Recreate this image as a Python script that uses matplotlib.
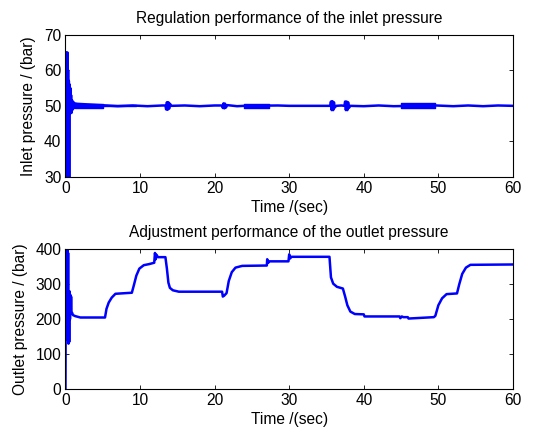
import matplotlib
matplotlib.use("Agg")
import matplotlib.pyplot as plt

plt.rcParams['font.family'] = ['Liberation Sans', 'DejaVu Sans']

# inlet pressure: start-up transient then steady around 50 bar
inlet_t = [0.0, 0.05, 0.1, 0.15, 0.2, 0.25, 0.3, 0.35, 0.4, 0.45, 0.5, 0.55,
           0.6, 0.65, 0.7, 0.75, 0.8, 0.9, 1.0, 1.1, 1.2, 1.3]
inlet_p = [30.0, 65.0, 30.0, 64.0, 35.0, 65.0, 30.0, 60.0, 30.0, 57.0, 30.0, 56.0,
           49.0, 55.0, 48.0, 53.0, 48.0, 51.5, 49.0, 51.0, 49.5, 50.6]

# steady part of the inlet pressure, (time, value) pairs
inlet_noise = [
    (1.3, 50.6), (5.5, 50.1), (7.0, 49.9), (9.0, 50.1), (11.0, 49.9), (13.0, 50.1),
    (13.4, 50.1), (13.5, 49.0), (13.6, 51.0), (13.7, 48.9), (13.8, 51.0),
    (13.9, 49.2), (14.0, 50.6), (14.2, 50.0), (16.0, 50.1), (18.0, 49.9),
    (20.0, 50.1), (21.0, 50.1), (21.1, 49.4), (21.2, 50.7), (21.3, 49.3),
    (21.4, 50.6), (21.5, 49.5), (21.7, 50.2), (23.0, 49.9), (24.0, 50.0),
    (28.5, 50.1), (30.0, 50.0), (33.0, 50.0), (35.5, 50.0), (35.6, 51.2),
    (35.7, 48.8), (35.8, 51.3), (35.9, 48.8), (36.0, 51.0), (36.1, 49.5),
    (36.3, 50.0), (37.0, 50.1), (37.4, 50.0), (37.5, 51.2), (37.6, 48.8),
    (37.7, 51.2), (37.8, 48.8), (37.9, 51.0), (38.0, 49.4), (38.2, 50.0),
    (40.0, 49.9), (42.0, 50.1), (44.0, 49.9), (49.7, 50.1), (52.0, 49.9),
    (54.0, 50.1), (56.0, 49.9), (58.0, 50.1), (60.0, 50.0),
]
noise_t = [p[0] for p in inlet_noise]
noise_p = [p[1] for p in inlet_noise]

# stretches where the inlet pressure chatters: start, end, half band (bar)
chatter_start = [1.3, 5.0, 24.0, 45.0]
chatter_end = [5.0, 9.5, 27.3, 49.6]
chatter_half = [0.55, 0.15, 0.5, 0.7]

# outlet pressure: staircase set-point tracking
outlet_t = [0.0, 0.05, 0.1, 0.15, 0.2, 0.25, 0.3, 0.35, 0.4, 0.45, 0.5, 0.55,
            0.6, 0.65, 0.7, 0.75, 0.8, 0.9, 1.0, 1.3, 2.0, 5.3, 5.5, 5.8, 6.2,
            6.7, 8.9, 9.2, 9.5, 9.9, 10.5, 11.2, 11.9, 12.0, 12.1, 12.2, 12.4,
            13.4, 13.6, 13.8, 14.0, 14.4, 15.2, 21.0, 21.1, 21.3, 21.6, 21.9,
            22.3, 22.8, 23.7, 27.0, 27.05, 27.2, 27.3, 29.9, 30.0, 30.1, 30.3,
            35.4, 35.6, 35.9, 36.4, 37.2, 37.5, 37.8, 38.2, 38.8, 40.0, 40.1,
            44.8, 44.9, 45.1, 45.3, 45.9, 46.0, 49.4, 49.6, 50.0, 50.5, 51.1,
            52.5, 52.8, 53.2, 53.7, 54.3, 60.0]
outlet_p = [0.0, 400.0, 150.0, 400.0, 180.0, 400.0, 140.0, 390.0, 130.0, 280.0,
            135.0, 280.0, 200.0, 270.0, 215.0, 265.0, 220.0, 218.0, 212.0,
            209.0, 205.0, 205.0, 230.0, 248.0, 262.0, 273.0, 276.0, 300.0,
            325.0, 345.0, 355.0, 358.0, 362.0, 390.0, 372.0, 385.0, 378.0,
            378.0, 345.0, 305.0, 290.0, 283.0, 279.0, 279.0, 265.0, 268.0,
            275.0, 310.0, 335.0, 348.0, 353.0, 354.0, 372.0, 362.0, 366.0,
            366.0, 386.0, 374.0, 379.0, 379.0, 320.0, 302.0, 293.0, 288.0,
            265.0, 240.0, 222.0, 215.0, 214.0, 208.0, 208.0, 203.0, 208.0,
            206.0, 206.0, 202.0, 206.0, 210.0, 240.0, 260.0, 272.0, 274.0,
            300.0, 330.0, 348.0, 356.0, 357.0]

fig = plt.figure(figsize=(5.43, 4.32), dpi=100)
ax1 = fig.add_axes([0.1206, 0.590, 0.824, 0.330])
ax2 = fig.add_axes([0.1206, 0.0995, 0.824, 0.323])

blue = '#0000ff'
ax1.plot(inlet_t, inlet_p, color=blue, linewidth=1.8)
ax1.plot(noise_t, noise_p, color=blue, linewidth=1.8)
for s, e, h in zip(chatter_start, chatter_end, chatter_half):
    ax1.fill_between([s, e], [50 - h, 50 - h], [50 + h, 50 + h],
                     color=blue, linewidth=1.0, edgecolor=blue)
ax2.plot(outlet_t, outlet_p, color=blue, linewidth=1.8)

fs = 11.2
ax1.set_xlim(0, 60)
ax1.set_ylim(30, 70)
ax1.set_yticks([30, 40, 50, 60, 70])
ax1.set_title('Regulation performance of the inlet pressure', fontsize=fs, pad=8)
ax1.set_ylabel('Inlet pressure / (bar)', fontsize=fs, labelpad=6)
ax1.set_xlabel('Time /(sec)', fontsize=fs, labelpad=3)

ax2.set_xlim(0, 60)
ax2.set_ylim(0, 400)
ax2.set_yticks([0, 100, 200, 300, 400])
ax2.set_title('Adjustment performance of the outlet pressure', fontsize=fs, pad=9)
ax2.set_ylabel('Outlet pressure / (bar)', fontsize=fs, labelpad=5)
ax2.set_xlabel('Time /(sec)', fontsize=fs, labelpad=3)

for ax in (ax1, ax2):
    ax.set_xticks(range(0, 61, 10))
    ax.tick_params(direction='in', top=True, right=True, labelsize=fs,
                   length=3, width=0.6, pad=3)
    for sp in ax.spines.values():
        sp.set_linewidth(0.8)

fig.savefig('out.png', dpi=100)
